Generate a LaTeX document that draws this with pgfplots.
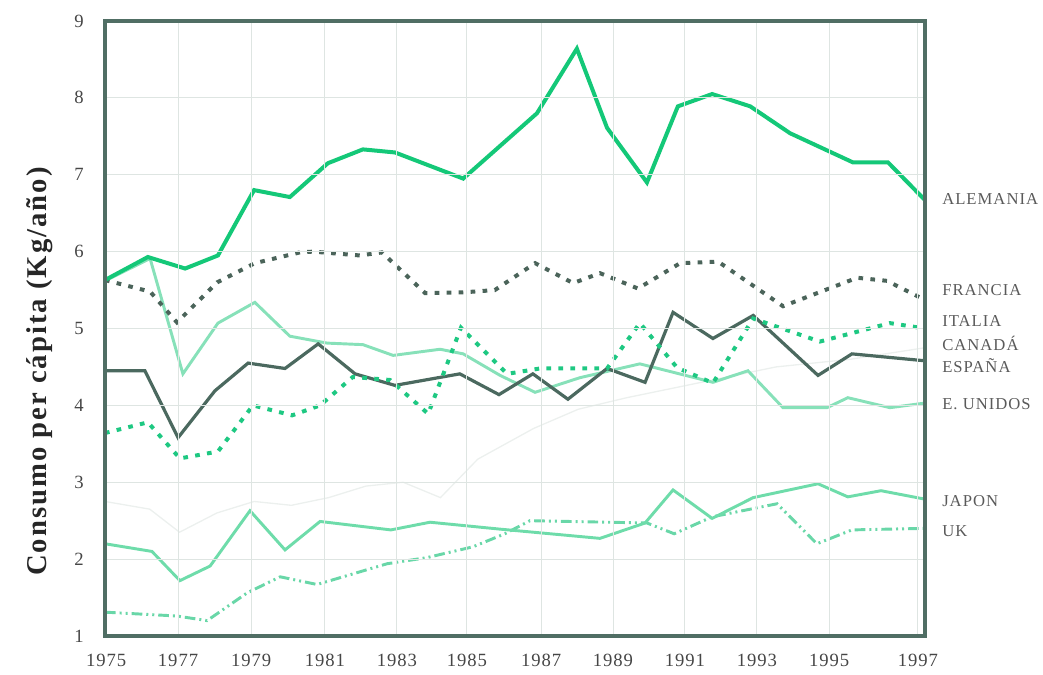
\documentclass[border=0pt]{standalone}
\usepackage{fontspec}
\setmainfont{Liberation Serif}
\newfontfamily\tickfont[LetterSpace=5]{Liberation Serif}
\newfontfamily\labfont[LetterSpace=7]{Liberation Serif}
\newfontfamily\legfont[LetterSpace=6]{Liberation Serif}
\usepackage{pgfplots}
\pgfplotsset{compat=1.18}
\definecolor{alemc}{RGB}{20,200,120}
\definecolor{franc}{RGB}{75,100,90}
\definecolor{espac}{RGB}{75,105,95}
\definecolor{italc}{RGB}{30,200,130}
\definecolor{eeuuc}{RGB}{135,225,185}
\definecolor{japc}{RGB}{110,220,170}
\definecolor{ukc}{RGB}{105,215,168}
\definecolor{canc}{RGB}{236,240,238}
\definecolor{framec}{RGB}{80,110,100}
\definecolor{gridc}{RGB}{222,229,226}
\definecolor{tickc}{RGB}{70,70,70}
\definecolor{labc}{RGB}{90,90,90}
\begin{document}
\begin{tikzpicture}[x=1pt,y=1pt]
\useasboundingbox (0,0) rectangle (782.25,506.25);
\begin{axis}[
  at={(78.75pt,29.25pt)}, anchor=south west,
  scale only axis, width=615pt, height=461.25pt,
  xmin=1975, xmax=1997, ymin=1, ymax=9,
  clip=false, axis on top,
  axis line style={draw=framec, line width=3pt},
  xtick={1975.03,1976.96,1978.92,1980.90,1982.83,1984.71,1986.70,1988.63,1990.56,1992.49,1994.43,1996.81},
  xticklabels={1975,1977,1979,1981,1983,1985,1987,1989,1991,1993,1995,1997},
  ytick={1,2,3,4,5,6,7,8,9},
  major tick length=0pt,
  grid=major,
  major grid style={draw=gridc, line width=0.7pt},
  /pgf/number format/assume math mode=true,
  xticklabel style={font=\tickfont\fontsize{14}{16}\selectfont, text=tickc, yshift=-10pt},
  yticklabel style={font=\tickfont\fontsize{14}{16}\selectfont, text=tickc, xshift=-12.5pt},
  ylabel={Consumo per cápita (Kg/año)},
  ylabel style={at={(axis description cs:-0.0793,0.43)}, anchor=center, rotate=0, font=\labfont\bfseries\fontsize{21.5}{24}\selectfont, text=black!85},
]
% CANADA (faint)
\addplot[canc, line width=1pt] coordinates {
(1975.00,2.75)(1976.20,2.65)(1977.00,2.35)(1978.00,2.60)(1979.00,2.75)(1980.00,2.70)(1981.00,2.80)(1982.00,2.95)(1983.00,3.00)(1984.00,2.80)(1985.00,3.30)(1986.50,3.70)(1987.70,3.95)(1989.00,4.10)(1991.00,4.30)(1993.00,4.50)(1995.00,4.60)(1997.00,4.75)};
% UK
\addplot[ukc, line width=2.2pt, dash pattern={on 8pt off 3pt on 1.5pt off 3pt on 1.5pt off 3pt}] coordinates {
(1975.00,1.31)(1976.93,1.26)(1977.74,1.20)(1978.81,1.56)(1979.70,1.77)(1980.69,1.67)(1982.57,1.94)(1983.64,2.02)(1984.87,2.16)(1985.73,2.33)(1986.40,2.50)(1989.54,2.47)(1990.27,2.33)(1991.29,2.55)(1993.03,2.72)(1994.10,2.20)(1995.04,2.38)(1997.00,2.40)};
% JAPON
\addplot[japc, line width=2.2pt] coordinates {
(1975.00,2.20)(1976.26,2.10)(1977.01,1.72)(1977.82,1.91)(1978.89,2.63)(1979.83,2.12)(1980.77,2.49)(1982.67,2.38)(1983.72,2.48)(1985.60,2.39)(1988.28,2.27)(1989.49,2.47)(1990.24,2.90)(1991.29,2.53)(1992.39,2.80)(1994.13,2.98)(1994.93,2.81)(1995.82,2.89)(1997.00,2.78)};
% E. UNIDOS
\addplot[eeuuc, line width=2.2pt] coordinates {
(1975.00,5.62)(1976.21,5.91)(1977.09,4.41)(1978.03,5.07)(1979.02,5.34)(1979.96,4.90)(1980.96,4.81)(1981.92,4.79)(1982.73,4.65)(1983.99,4.73)(1984.61,4.67)(1985.60,4.39)(1986.54,4.17)(1987.74,4.36)(1989.35,4.54)(1991.31,4.30)(1992.25,4.45)(1993.19,3.97)(1994.37,3.97)(1994.93,4.10)(1996.06,3.97)(1997.00,4.03)};
% ESPANA
\addplot[espac, line width=2.4pt] coordinates {
(1975.00,4.45)(1976.07,4.45)(1976.96,3.58)(1977.95,4.19)(1978.84,4.55)(1979.83,4.48)(1980.72,4.80)(1981.71,4.41)(1982.78,4.26)(1984.52,4.41)(1985.57,4.14)(1986.48,4.41)(1987.42,4.08)(1988.47,4.48)(1989.49,4.30)(1990.24,5.21)(1991.31,4.87)(1992.39,5.17)(1994.13,4.39)(1995.04,4.67)(1997.00,4.58)};
% ITALIA
\addplot[italc, line width=3pt, line cap=butt, dash pattern={on 3.5pt off 5.5pt}] coordinates {
(1975.00,3.64)(1976.15,3.78)(1977.01,3.31)(1978.03,3.40)(1978.97,4.00)(1980.02,3.87)(1980.77,4.00)(1981.65,4.37)(1982.65,4.33)(1983.67,3.89)(1984.55,5.01)(1985.79,4.41)(1986.67,4.48)(1988.47,4.48)(1989.35,5.07)(1990.35,4.49)(1991.31,4.29)(1992.39,5.13)(1994.18,4.83)(1996.06,5.07)(1997.00,5.00)};
% FRANCIA
\addplot[franc, line width=3pt, line cap=butt, dash pattern={on 3.5pt off 5.5pt}] coordinates {
(1975.00,5.63)(1976.21,5.48)(1976.93,5.08)(1978.01,5.60)(1979.02,5.85)(1980.23,5.99)(1980.58,6.00)(1981.84,5.95)(1982.43,5.99)(1983.59,5.46)(1984.61,5.47)(1985.46,5.50)(1986.54,5.85)(1987.56,5.59)(1988.28,5.72)(1989.30,5.52)(1990.43,5.85)(1991.45,5.87)(1993.19,5.29)(1995.18,5.66)(1995.98,5.62)(1997.00,5.37)};
% ALEMANIA
\addplot[alemc, line width=3pt] coordinates {
(1975.00,5.63)(1976.15,5.93)(1977.15,5.78)(1978.03,5.95)(1979.00,6.80)(1979.96,6.71)(1980.98,7.15)(1981.92,7.33)(1982.78,7.29)(1984.61,6.95)(1986.59,7.80)(1987.66,8.64)(1988.47,7.61)(1989.54,6.90)(1990.37,7.89)(1991.29,8.05)(1992.31,7.89)(1993.38,7.54)(1995.07,7.16)(1996.01,7.16)(1997.00,6.67)};
\begin{scope}[every node/.style={anchor=west, font=\legfont\fontsize{12.5}{14}\selectfont, text=labc, inner sep=0pt, xshift=12.75pt}]
\node at (axis cs:1997,6.68) {ALEMANIA};
\node at (axis cs:1997,5.50) {FRANCIA};
\node at (axis cs:1997,5.10) {ITALIA};
\node at (axis cs:1997,4.80) {CANADÁ};
\node at (axis cs:1997,4.52) {ESPAÑA};
\node at (axis cs:1997,4.02) {E. UNIDOS};
\node at (axis cs:1997,2.76) {JAPON};
\node at (axis cs:1997,2.36) {UK};
\end{scope}
\end{axis}
\end{tikzpicture}
\end{document}
